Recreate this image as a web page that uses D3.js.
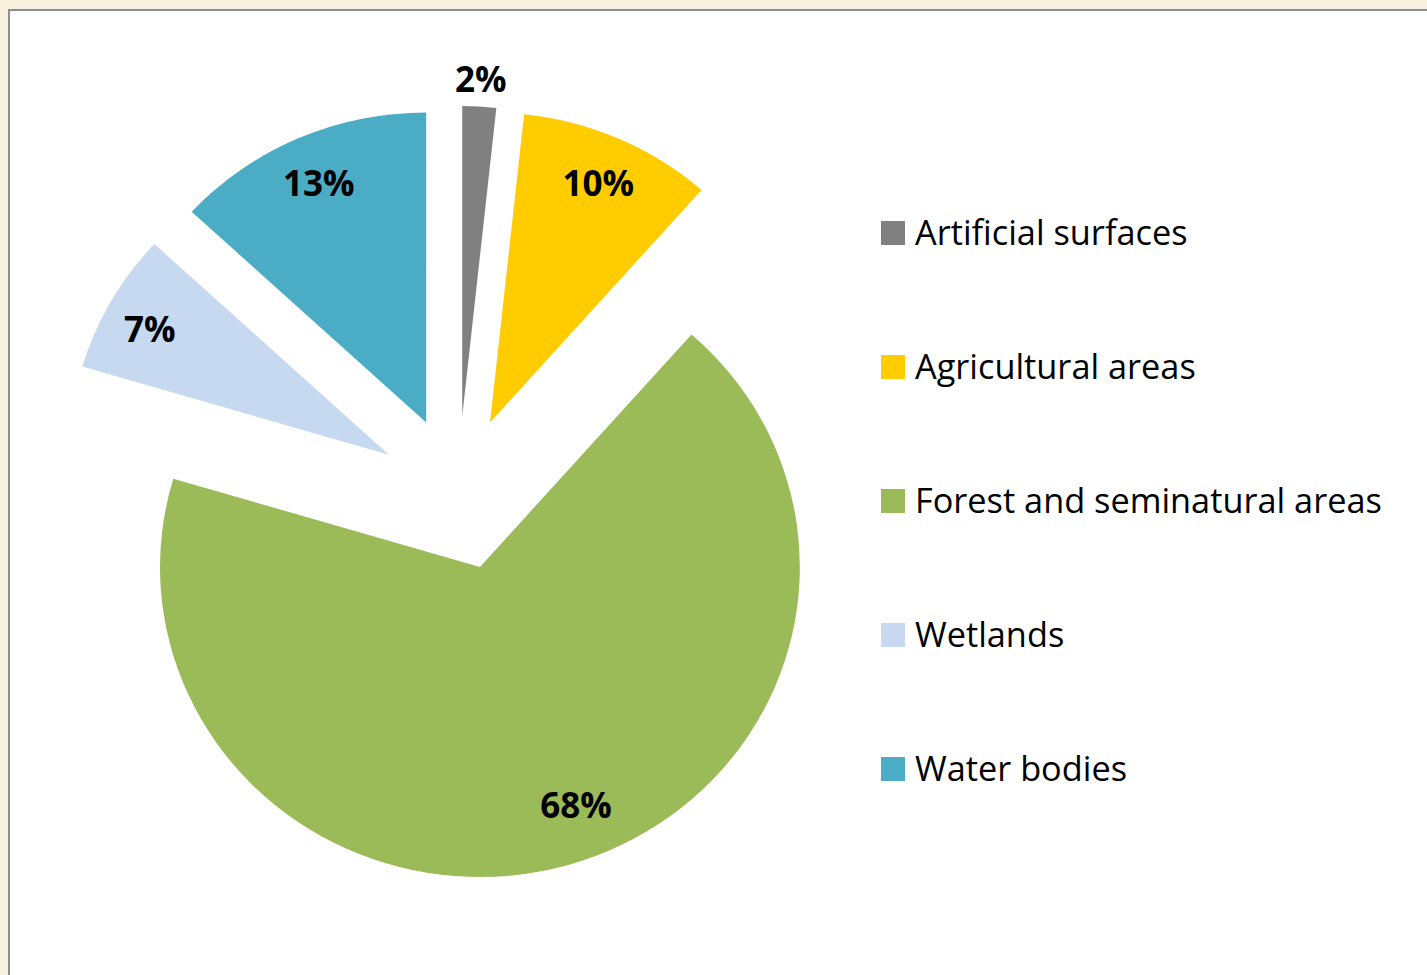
<!DOCTYPE html>
<html>
<head>
<meta charset="utf-8">
<script src="https://cdn.jsdelivr.net/npm/d3@7/dist/d3.min.js"></script>
<style>
  html, body { margin: 0; padding: 0; background: #F6F0DD; }
  svg { display: block; }
  text { font-variant-ligatures: none; }
</style>
</head>
<body>
<svg id="chart" width="1427" height="975"></svg>
<script>
// ---- data ----
const categories = ["Artificial surfaces", "Agricultural areas", "Forest and seminatural areas", "Wetlands", "Water bodies"];
const values = [1.7, 9.8, 68.1, 7.3, 13.1];
const labels = ["2%", "10%", "68%", "7%", "13%"];
const colors = ["#808080", "#FFCC00", "#9BBB59", "#C6D9F1", "#4BACC6"];

// ---- layout / style config ----
const W = 1427, H = 975;
const cx = 458, cy = 493;      // unexploded pie centre
const R = 310;                  // radius (vertical)
const sx = 1.032;               // horizontal stretch of the picture
const explode = 77;
const labelK = [1.085, 0.84, 0.826, 0.85, 0.84];
const labelShift = [0, 0, -5.3, -1.3, 0]; // degrees
const legendX = 881, legendY0 = 233, legendStep = 134, sw = 24;

const svg = d3.select("#chart");

// chart area frame
svg.append("rect")
  .attr("x", 9).attr("y", 10).attr("width", W + 20).attr("height", H + 20)
  .attr("fill", "#FFFFFF").attr("stroke", "#8E8E8E").attr("stroke-width", 2);

const pie = d3.pie().sort(null).value(d => d).startAngle(0).endAngle(2 * Math.PI);
const arcs = pie(values);
const arc = d3.arc().innerRadius(0).outerRadius(R);

const g = svg.append("g").attr("transform", `translate(${cx},${cy}) scale(${sx},1)`);

g.selectAll("path.slice")
  .data(arcs)
  .join("path")
  .attr("class", "slice")
  .attr("d", arc)
  .attr("fill", (d, i) => colors[i])
  .attr("transform", d => {
    const m = (d.startAngle + d.endAngle) / 2;
    return `translate(${Math.sin(m) * explode},${-Math.cos(m) * explode})`;
  });

// data labels
svg.selectAll("text.dlabel")
  .data(arcs)
  .join("text")
  .attr("class", "dlabel")
  .attr("x", (d, i) => {
    const m = (d.startAngle + d.endAngle) / 2;
    const a = m + labelShift[i] * Math.PI / 180;
    return cx + sx * (Math.sin(m) * explode + Math.sin(a) * labelK[i] * R);
  })
  .attr("y", (d, i) => {
    const m = (d.startAngle + d.endAngle) / 2;
    const a = m + labelShift[i] * Math.PI / 180;
    return cy + (-Math.cos(m) * explode - Math.cos(a) * labelK[i] * R);
  })
  .attr("dy", "0.35em")
  .attr("text-anchor", "middle")
  .attr("font-family", "'Open Sans', Lato, sans-serif")
  .attr("font-weight", "bold")
  .attr("font-size", 35)
  .attr("fill", "#000")
  .text((d, i) => labels[i]);

// legend
const lg = svg.append("g");
const rows = lg.selectAll("g.row")
  .data(categories)
  .join("g")
  .attr("class", "row")
  .attr("transform", (d, i) => `translate(${legendX},${legendY0 + i * legendStep})`);
rows.append("rect")
  .attr("x", 0).attr("y", -sw / 2).attr("width", sw).attr("height", sw)
  .attr("fill", (d, i) => colors[i]);
rows.append("text")
  .attr("x", 34).attr("y", 0).attr("dy", "0.35em")
  .attr("font-family", "'Open Sans', Lato, sans-serif")
  .attr("font-size", 34.3)
  .attr("fill", "#000")
  .text(d => d);
</script>
</body>
</html>
